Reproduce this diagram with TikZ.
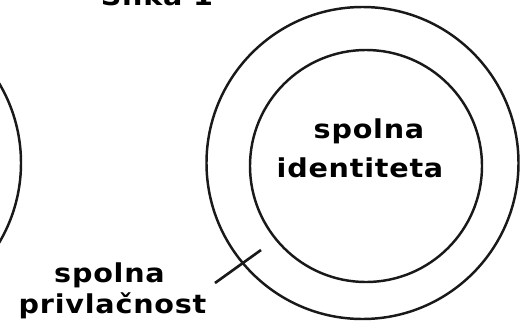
\documentclass[tikz,border=0pt]{standalone}
\usepackage{fontspec}
\setmainfont{DejaVu Sans}
\newfontfamily\labelfont[LetterSpace=3,FakeStretch=1.1]{DejaVu Sans Bold}
\usepackage{tikz}
\usetikzlibrary{positioning}

\tikzset{
  ring/.style={line width=1.4pt, draw=black!90},
  lbl/.style={anchor=base, inner sep=0pt, font=\labelfont\fontsize{14.8}{17}\selectfont},
  pointer/.style={line width=1.5pt, draw=black!90}
}

\begin{document}
\begin{tikzpicture}
                    \useasboundingbox (0,0) rectangle (10.5,6.54);
                    \clip (0,0) rectangle (10.5,6.54);
                    % title, cut off at the top
                    \node[lbl] (title) at (3.14,6.44) {Slika 1};
                    % circles
                    \draw[ring] (-2.70,3.28) circle (3.12);
                    \draw[ring] (7.25,3.28) circle (3.12);
                    \draw[ring] (7.32,3.22) circle (2.32);
                    % labels
                    \node[lbl] (innerA) at (7.38,3.78) {spolna};
                    \node[lbl] (innerB) at (7.20,3.00) {identiteta};
                    \node[lbl] (ringA) at (2.19,0.90) {spolna};
                    \node[lbl] (ringB) at (2.25,0.28) {privlačnost};
                    % pointer into the ring
                    \coordinate (tipA) at (4.30,0.88);
                    \coordinate (tipB) at (5.22,1.54);
                    \draw[pointer] (tipA) -- (tipB);
                \end{tikzpicture}
\end{document}
